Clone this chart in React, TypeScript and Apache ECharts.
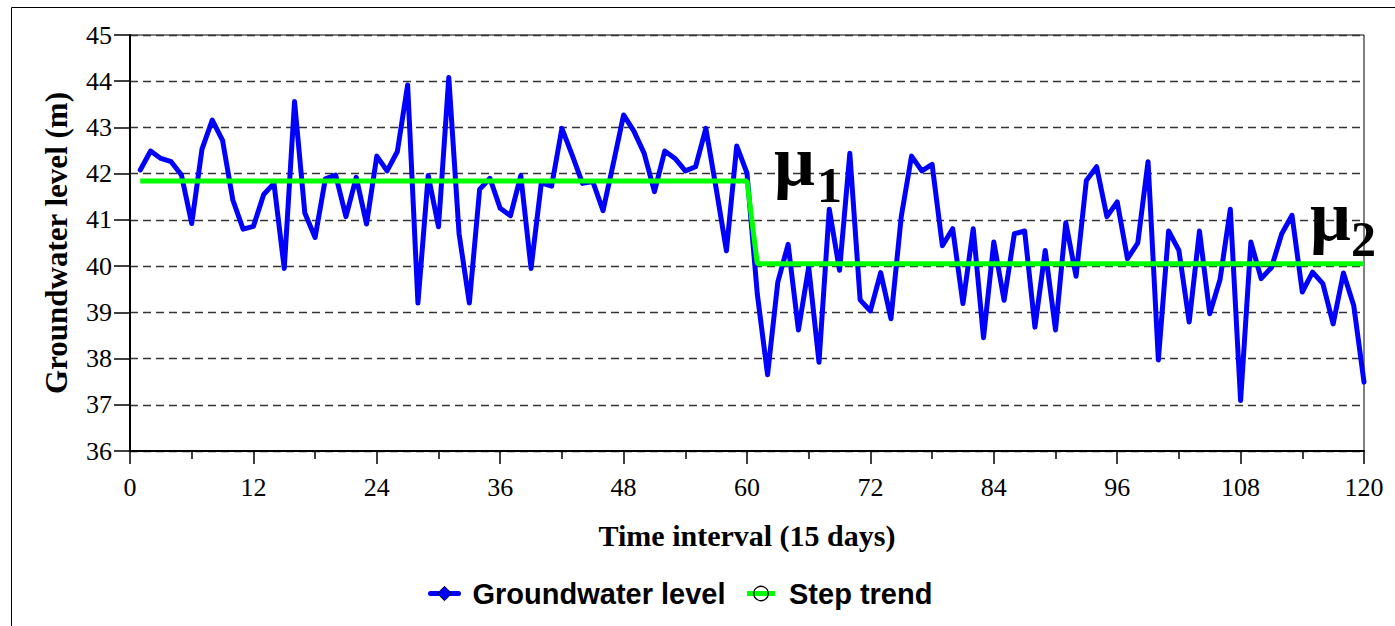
import React, { useEffect, useRef } from 'react';
import * as echarts from 'echarts';

// Groundwater level, one value per 15-day interval (t = 1..120)
const levels: number[] = [
  42.08, 42.49, 42.33, 42.26, 41.97, 40.92, 42.53, 43.16, 42.72, 41.43,
  40.80, 40.86, 41.55, 41.79, 39.95, 43.56, 41.15, 40.62, 41.89, 41.97,
  41.07, 41.92, 40.91, 42.38, 42.06, 42.48, 43.92, 39.20, 41.96, 40.85,
  44.08, 40.70, 39.20, 41.66, 41.90, 41.25, 41.09, 41.96, 39.95, 41.80,
  41.73, 42.98, 42.40, 41.79, 41.83, 41.20, 42.22, 43.27, 42.92, 42.44,
  41.61, 42.49, 42.33, 42.06, 42.15, 42.98, 41.68, 40.33, 42.60, 42.01,
  39.40, 37.65, 39.66, 40.47, 38.62, 39.98, 37.92, 41.23, 39.91, 42.44,
  39.27, 39.03, 39.86, 38.86, 41.07, 42.38, 42.06, 42.20, 40.44, 40.81,
  39.19, 40.81, 38.45, 40.52, 39.26, 40.70, 40.76, 38.68, 40.34, 38.62,
  40.94, 39.78, 41.85, 42.15, 41.07, 41.39, 40.16, 40.50, 42.26, 37.97,
  40.76, 40.34, 38.79, 40.76, 38.97, 39.71, 41.23, 37.09, 40.52, 39.73,
  39.97, 40.70, 41.10, 39.44, 39.87, 39.62, 38.75, 39.85, 39.15, 37.49,
];

// Step trend breakpoints
const stepX: number[] = [1, 60, 61, 120];
const stepY: number[] = [41.84, 41.84, 40.05, 40.05];

const seriesNames = ['Groundwater level', 'Step trend'];

export default function App() {
  const ref = useRef<HTMLDivElement>(null);

  useEffect(() => {
    document.body.style.margin = '0';
    const chart = echarts.init(ref.current!, null, { renderer: 'svg' });
    const serif = "'Liberation Serif', 'Times New Roman', serif";
    const sans = "'Liberation Sans', Arial, sans-serif";

    chart.setOption({
      animation: false,
      backgroundColor: '#ffffff',
      grid: {
        left: 130,
        top: 35,
        right: 31,
        bottom: 175,
        show: true,
        borderColor: '#000',
        borderWidth: 1,
      },
      legend: {
        left: 428,
        top: 579,
        padding: 0,
        itemWidth: 28,
        itemHeight: 18,
        itemGap: 19,
        textStyle: {
          fontFamily: sans,
          fontWeight: 'bold',
          fontSize: 29,
          color: '#000',
          padding: [0, 0, 0, 9],
        },
        data: [
          {
            name: seriesNames[0],
            itemStyle: { color: '#0000FF', borderColor: '#000', borderWidth: 1 },
            lineStyle: { color: '#0000FF', width: 5 },
          },
          {
            name: seriesNames[1],
            itemStyle: { color: 'rgba(0,0,0,0)', borderColor: '#000', borderWidth: 1.3 },
            lineStyle: { color: '#00FF00', width: 5 },
          },
        ],
      },
      xAxis: {
        type: 'value',
        min: 0,
        max: 120,
        interval: 12,
        name: 'Time interval (15 days)',
        nameLocation: 'middle',
        nameGap: 69,
        nameTextStyle: { fontFamily: serif, fontWeight: 'bold', fontSize: 30, color: '#000' },
        axisLine: { show: true, onZero: false, lineStyle: { color: '#000', width: 2 } },
        axisTick: { show: true, length: 13, lineStyle: { color: '#000', width: 1.5 } },
        minorTick: { show: true, splitNumber: 2, length: 8, lineStyle: { color: '#000', width: 1.5 } },
        axisLabel: { fontFamily: serif, fontSize: 26, color: '#000', margin: 23 },
        splitLine: { show: false },
        minorSplitLine: { show: false },
      },
      yAxis: {
        type: 'value',
        min: 36,
        max: 45,
        interval: 1,
        name: 'Groundwater level (m)',
        nameLocation: 'middle',
        nameGap: 58,
        nameRotate: 90,
        nameTextStyle: { fontFamily: serif, fontWeight: 'bold', fontSize: 31, color: '#000' },
        axisLine: { show: true, lineStyle: { color: '#000', width: 2 } },
        axisTick: { show: true, length: 16, lineStyle: { color: '#000', width: 1.5 } },
        axisLabel: { fontFamily: serif, fontSize: 26, color: '#000', margin: 18 },
        splitLine: { show: true, lineStyle: { color: '#333', width: 1.3, type: [8, 5] } },
      },
      series: [
        {
          name: seriesNames[0],
          type: 'line',
          data: levels.map((v, i) => [i + 1, v]),
          symbol: 'diamond',
          showSymbol: false,
          lineStyle: { color: '#0000FF', width: 5, join: 'round', cap: 'round' },
          itemStyle: { color: '#0000FF', borderColor: '#000', borderWidth: 1 },
          z: 2,
        },
        {
          name: seriesNames[1],
          type: 'line',
          data: stepX.map((x, i) => [x, stepY[i]]),
          symbol: 'circle',
          showSymbol: false,
          lineStyle: { color: '#00FF00', width: 5 },
          itemStyle: { color: 'rgba(0,0,0,0)', borderColor: '#000', borderWidth: 1.3 },
          z: 3,
        },
      ],
      graphic: [
        {
          type: 'rect',
          silent: true,
          z: -10,
          shape: { x: 11.5, y: 7.5, width: 1400, height: 700 },
          style: { fill: 'none', stroke: '#000', lineWidth: 1 },
        },
        {
          type: 'text',
          x: 774,
          y: 161,
          z: 10,
          style: { text: 'μ', fontFamily: serif, fontWeight: 'bold', fontSize: 72, fill: '#000', align: 'left', verticalAlign: 'middle' },
        },
        {
          type: 'text',
          x: 817,
          y: 185,
          z: 10,
          style: { text: '1', fontFamily: serif, fontWeight: 'bold', fontSize: 50, fill: '#000', align: 'left', verticalAlign: 'middle' },
        },
        {
          type: 'text',
          x: 1310,
          y: 216,
          z: 10,
          style: { text: 'μ', fontFamily: serif, fontWeight: 'bold', fontSize: 72, fill: '#000', align: 'left', verticalAlign: 'middle' },
        },
        {
          type: 'text',
          x: 1351,
          y: 239,
          z: 10,
          style: { text: '2', fontFamily: serif, fontWeight: 'bold', fontSize: 50, fill: '#000', align: 'left', verticalAlign: 'middle' },
        },
      ],
    });

    return () => chart.dispose();
  }, []);

  return <div ref={ref} style={{ width: 1395, height: 626 }} />;
}
